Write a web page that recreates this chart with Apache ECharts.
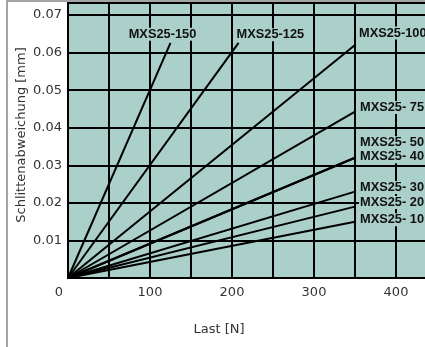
<!DOCTYPE html>
<html><head><meta charset="utf-8">
<script src="https://cdn.jsdelivr.net/npm/echarts@6/dist/echarts.min.js"></script>
<style>html,body{margin:0;padding:0;background:#fff}#c{width:425px;height:347px}</style>
</head><body><div id="c"></div>
<script>
// Data (load in N, deviation in mm)
const seriesNames = ['MXS25-150','MXS25-125','MXS25-100','MXS25- 75','MXS25- 50','MXS25- 40','MXS25- 30','MXS25- 20','MXS25- 10'];
const endLoad =      [125,    208,    350,   350,    350,   350,   350,   350,   350];
const endDeviation = [0.0626, 0.0626, 0.062, 0.0443, 0.032, 0.032, 0.023, 0.019, 0.015];
const xTicks = [0, 100, 200, 300, 400];
const yTicks = [0.01, 0.02, 0.03, 0.04, 0.05, 0.06, 0.07];

// label placement (style only)
const labelPos = [
  {position:'top', distance:5, offset:[-7,3]},
  {position:'right', distance:0, offset:[-3,-8]},
  {position:'right', distance:3, offset:[0,-12]},
  {position:'right', distance:4, offset:[0,-4]},
  {position:'right', distance:4, offset:[0,-15]},
  {position:'right', distance:4, offset:[0,-1]},
  {position:'right', distance:4, offset:[0,-4]},
  {position:'right', distance:4, offset:[0,-4]},
  {position:'right', distance:4, offset:[0,-2]}
];
const plotBg = '#abcfc9';

const series = seriesNames.map((n,i)=>({
  type:'line', name:n, symbol:'circle', symbolSize:0.01, showSymbol:true, silent:true,
  itemStyle:{color:'#000'},
  lineStyle:{color:'#000', width:2},
  data:[{value:[0,0], label:{show:false}}, {value:[endLoad[i], endDeviation[i]], label:Object.assign({
    show:true, formatter:n, color:'#111', fontFamily:'Liberation Sans', fontWeight:'bold', fontSize:12.8,
    backgroundColor:plotBg, padding:[0,3,0,1]
  }, labelPos[i])}],
  z:5
}));

const chart = echarts.init(document.getElementById('c'), null, {renderer:'canvas'});
const near = (v, arr) => arr.some(t => Math.abs(v - t) < 1e-9);
chart.setOption({
  animation:false,
  grid:{left:68, width:369, top:3, bottom:69, outerBoundsMode:'none', containLabel:false,
    show:true, backgroundColor:plotBg, borderColor:'#000', borderWidth:2},
  xAxis:{type:'value', min:0, max:450, interval:50,
    axisLine:{show:true, lineStyle:{color:'#000', width:2}}, axisTick:{show:false},
    splitLine:{show:true, lineStyle:{color:'#000', width:2}},
    axisLabel:{margin:8, color:'#333', fontFamily:'DejaVu Sans', fontSize:13,
      formatter:v => near(v, xTicks) ? (v===0 ? '{z|0}' : String(v)) : '',
      rich:{z:{padding:[0,18,0,0], color:'#333', fontFamily:'DejaVu Sans', fontSize:13}}}
  },
  yAxis:{type:'value', min:0, max:0.0732, interval:0.01,
    axisLine:{show:true, lineStyle:{color:'#000', width:2}}, axisTick:{show:false},
    splitLine:{show:true, lineStyle:{color:'#000', width:2}},
    axisLabel:{margin:6, color:'#333', fontFamily:'DejaVu Sans', fontSize:13,
      formatter:v => near(v, yTicks) ? v.toFixed(2) : ''}
  },
  graphic:[
    {type:'rect', z:-10, shape:{x:7, y:1, width:700, height:700}, style:{fill:'none', stroke:'#888', lineWidth:1.5}},
    {type:'text', x:219, y:330, style:{text:'Last [N]', fill:'#333', font:'13px "DejaVu Sans"', textAlign:'center', textVerticalAlign:'middle'}},
    {type:'text', x:22, y:135, rotation:Math.PI/2, style:{text:'Schlittenabweichung [mm]', fill:'#333', font:'13px "DejaVu Sans"', textAlign:'center', textVerticalAlign:'middle'}}
  ],
  series:series
});
</script></body></html>
